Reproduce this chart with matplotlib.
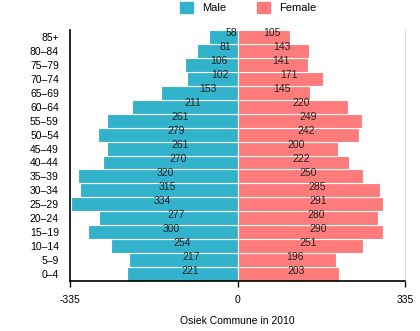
import matplotlib.pyplot as plt
from matplotlib.patches import Patch

plt.rcParams['font.family'] = ['Liberation Sans', 'DejaVu Sans']

AGES = ["0–4", "5–9", "10–14", "15–19", "20–24", "25–29", "30–34", "35–39",
        "40–44", "45–49", "50–54", "55–59", "60–64", "65–69", "70–74",
        "75–79", "80–84", "85+"]
MALE = [221, 217, 254, 300, 277, 334, 315, 320, 270, 261, 279, 261, 211,
        153, 102, 106, 81, 58]
FEMALE = [203, 196, 251, 290, 280, 291, 285, 250, 222, 200, 242, 249, 220,
          145, 171, 141, 143, 105]
XMAX = 335
TITLE = "Osiek Commune in 2010"

MALE_COLOR = "#33b2cc"
FEMALE_COLOR = "#fd7b7b"

fig = plt.figure(figsize=(4.2, 3.31), dpi=100)
ax = fig.add_axes([70 / 420, 50 / 331, 335 / 420, 251 / 331])

y = list(range(len(AGES)))
ax.barh(y, [-m for m in MALE], height=1.0, color=MALE_COLOR,
        edgecolor="white", linewidth=0.8)
ax.barh(y, FEMALE, height=1.0, color=FEMALE_COLOR,
        edgecolor="white", linewidth=0.8)

# value labels sit in the middle of each bar, nudged up and right
for i, (m, f) in enumerate(zip(MALE, FEMALE)):
    ax.annotate(str(m), (-m / 2, i), xytext=(6, 2.5), textcoords="offset points",
                ha="center", va="center", fontsize=7.5, color="#222222")
    ax.annotate(str(f), (f / 2, i), xytext=(6, 2.5), textcoords="offset points",
                ha="center", va="center", fontsize=7.5, color="#222222")

ax.set_xlim(-XMAX, XMAX)
ax.set_ylim(-0.5, len(AGES) - 0.5)
ax.set_yticks(y)
ax.set_yticklabels(AGES, fontsize=7.5)
ax.set_xticks([-XMAX, 0, XMAX])
ax.set_xticklabels([f"-{XMAX}", "0", str(XMAX)], fontsize=7.5)
ax.tick_params(axis="y", length=0, pad=8)
ax.tick_params(axis="x", length=4, width=1, pad=6)

ax.spines["top"].set_visible(False)
ax.spines["right"].set_color("#dddddd")
ax.spines["left"].set_linewidth(1.2)
ax.spines["bottom"].set_linewidth(1.2)

ax.set_xlabel(TITLE, fontsize=7.5, labelpad=8)

handles = [Patch(color=MALE_COLOR, label="Male"),
           Patch(color=FEMALE_COLOR, label="Female")]
fig.legend(handles=handles, loc="upper center", bbox_to_anchor=(248 / 420, 1.025),
           ncol=2, frameon=False, fontsize=8, handlelength=1.2,
           handleheight=1.2, handletextpad=0.8, columnspacing=2.8)

fig.savefig("out.png", dpi=100)
